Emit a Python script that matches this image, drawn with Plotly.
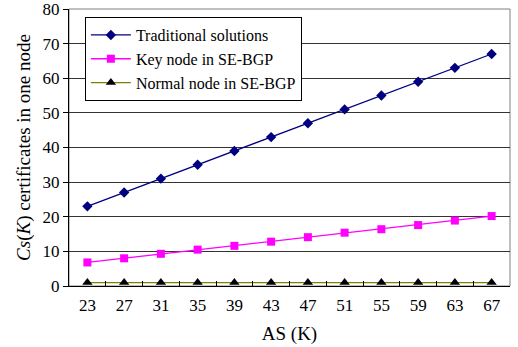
import plotly.graph_objects as go

as_k = ["23", "27", "31", "35", "39", "43", "47", "51", "55", "59", "63", "67"]
traditional = [23, 27, 31, 35, 39, 43, 47, 51, 55, 59, 63, 67]
key_node = [6.8, 8.0, 9.3, 10.5, 11.6, 12.8, 14.1, 15.4, 16.4, 17.6, 18.9, 20.2]
normal_node = [1, 1, 1, 1, 1, 1, 1, 1, 1, 1, 1, 1]
y_ticks = [0, 10, 20, 30, 40, 50, 60, 70, 80]

FONT = "Liberation Serif, 'Times New Roman', serif"

fig = go.Figure()
fig.add_trace(go.Scatter(x=as_k, y=traditional, name="Traditional solutions",
                         mode="lines+markers",
                         line=dict(color="#000080", width=1.3),
                         marker=dict(symbol="diamond", size=8, color="#000080")))
fig.add_trace(go.Scatter(x=as_k, y=key_node, name="Key node in SE-BGP",
                         mode="lines+markers",
                         line=dict(color="#FF00FF", width=1.3),
                         marker=dict(symbol="square", size=8, color="#FF00FF")))
fig.add_trace(go.Scatter(x=as_k, y=normal_node, name="Normal node in SE-BGP",
                         mode="lines+markers",
                         line=dict(color="#808000", width=1.3),
                         marker=dict(symbol="triangle-up", size=9, color="#000000")))

fig.update_layout(
    width=518, height=347,
    margin=dict(l=69, r=8, t=9, b=61, autoexpand=False),
    paper_bgcolor="white", plot_bgcolor="white",
    font=dict(family=FONT, size=17, color="black"),
    showlegend=True,
    legend=dict(x=0.036, y=0.971, xanchor="left", yanchor="top",
                bgcolor="white", bordercolor="black", borderwidth=1,
                font=dict(family=FONT, size=16), tracegroupgap=0,
                itemwidth=40),
    xaxis=dict(type="category", tickson="boundaries", ticks="inside", ticklen=5,
               tickcolor="black", showline=True, linecolor="black", linewidth=1,
               mirror=False, showgrid=False, range=[-0.5, 11.5], automargin=False,
               ticklabelstandoff=4,
               title=dict(text="AS (K)", font=dict(family=FONT, size=19), standoff=12),
               tickfont=dict(family=FONT, size=17)),
    yaxis=dict(range=[0, 80], tickmode="array", tickvals=y_ticks,
               ticklabeloverflow="allow", automargin=False,
               ticks="outside", ticklen=5, tickcolor="black",
               showline=True, linecolor="black", linewidth=1,
               showgrid=True, gridcolor="#333333", gridwidth=1,
               zeroline=False,
               title=dict(text="<i>Cs</i>(<i>K</i>) certificates in one node",
                          font=dict(family=FONT, size=19), standoff=6),
               tickfont=dict(family=FONT, size=17)),
)
fig.add_shape(type="rect", xref="paper", yref="paper", x0=0, y0=0, x1=1, y1=1,
              line=dict(color="#808080", width=1), layer="below")

fig.write_html("out.html", config={"displayModeBar": False},
               post_script="document.body.style.margin='0px';")
